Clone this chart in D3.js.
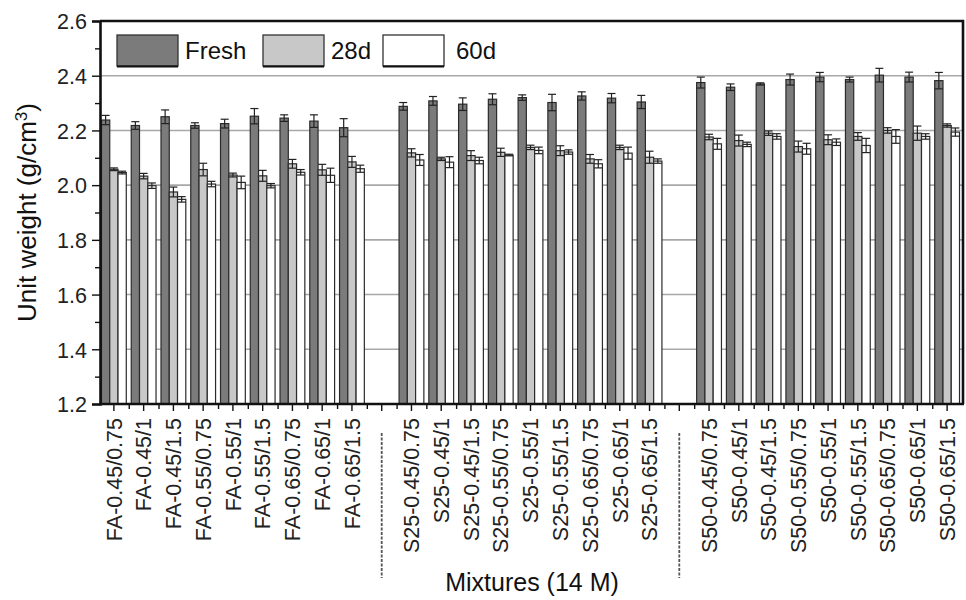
<!DOCTYPE html>
<html>
<head>
<meta charset="utf-8">
<script src="https://cdn.jsdelivr.net/npm/d3@7"></script>
<style>
    body { margin: 0; background: #fff; }
    svg text { font-family: 'Liberation Sans', Arial, sans-serif; fill: #111; }
</style>
</head>
<body>
<div class="main_content"></div>
<script>
// Mixture names, in plotting order
const categories = [
    'FA-0.45/0.75', 'FA-0.45/1', 'FA-0.45/1.5', 'FA-0.55/0.75', 'FA-0.55/1', 'FA-0.55/1.5', 'FA-0.65/0.75', 'FA-0.65/1', 'FA-0.65/1.5',
    'S25-0.45/0.75', 'S25-0.45/1', 'S25-0.45/1.5', 'S25-0.55/0.75', 'S25-0.55/1', 'S25-0.55/1.5', 'S25-0.65/0.75', 'S25-0.65/1', 'S25-0.65/1.5',
    'S50-0.45/0.75', 'S50-0.45/1', 'S50-0.45/1.5', 'S50-0.55/0.75', 'S50-0.55/1', 'S50-0.55/1.5', 'S50-0.65/0.75', 'S50-0.65/1', 'S50-0.65/1.5'
];
const seriesNames = ['Fresh', '28d', '60d'];

// Unit weight (g/cm3)
const fresh = [2.238, 2.218, 2.250, 2.218, 2.225, 2.252, 2.245, 2.234, 2.210,
               2.288, 2.308, 2.296, 2.314, 2.320, 2.302, 2.326, 2.318, 2.304,
               2.375, 2.358, 2.370, 2.386, 2.395, 2.386, 2.402, 2.395, 2.382];
const age28 = [2.058, 2.033, 1.975, 2.057, 2.037, 2.034, 2.078, 2.056, 2.085,
               2.118, 2.096, 2.108, 2.120, 2.138, 2.126, 2.096, 2.138, 2.102,
               2.176, 2.163, 2.190, 2.141, 2.166, 2.178, 2.200, 2.190, 2.218];
const age60 = [2.046, 1.998, 1.948, 2.004, 2.010, 1.998, 2.047, 2.036, 2.060,
               2.092, 2.084, 2.090, 2.110, 2.127, 2.121, 2.078, 2.117, 2.088,
               2.151, 2.149, 2.178, 2.133, 2.157, 2.145, 2.178, 2.178, 2.194];

// Standard deviations
const errFresh = [0.017, 0.014, 0.025, 0.010, 0.016, 0.028, 0.012, 0.023, 0.033,
                  0.014, 0.016, 0.023, 0.020, 0.010, 0.030, 0.015, 0.017, 0.024,
                  0.020, 0.012, 0.004, 0.020, 0.017, 0.009, 0.025, 0.018, 0.030];
const err28 = [0.005, 0.010, 0.018, 0.023, 0.007, 0.020, 0.016, 0.020, 0.020,
               0.015, 0.006, 0.018, 0.015, 0.008, 0.018, 0.016, 0.008, 0.022,
               0.010, 0.020, 0.008, 0.020, 0.018, 0.014, 0.010, 0.026, 0.006];
const err60 = [0.005, 0.010, 0.010, 0.010, 0.023, 0.008, 0.010, 0.026, 0.013,
               0.020, 0.020, 0.012, 0.003, 0.012, 0.008, 0.015, 0.022, 0.008,
               0.020, 0.008, 0.010, 0.020, 0.012, 0.026, 0.025, 0.010, 0.015];

const yTicks = [1.2, 1.4, 1.6, 1.8, 2.0, 2.2, 2.4, 2.6];
const gridValues = [1.4, 1.6, 1.8, 2.0, 2.2, 2.4];

class UnitWeightChart {
    constructor() {
        this.width = 966;
        this.height = 600;
        this.plot = {left: 100, right: 963, top: 21, bottom: 404};
        this.colors = {Fresh: '#7b7b7b', '28d': '#c8c8c8', '60d': '#ffffff'};
    }

    render() {
        let svg = d3.select('.main_content').append('svg')
            .attr('width', this.width)
            .attr('height', this.height);
        this.svg = svg;
        let p = this.plot;

        // Slots: three groups of nine, with an empty slot between groups
        let slots = categories.slice(0, 9).concat(['gap1'], categories.slice(9, 18), ['gap2'], categories.slice(18));

        let xScale = d3.scaleBand()
            .domain(slots)
            .range([p.left - 1, p.right - 1])
            .padding(0);

        let xSub = d3.scaleBand()
            .domain(seriesNames)
            .range([0, xScale.bandwidth()])
            .paddingInner(0)
            .paddingOuter(0.3);

        let yScale = d3.scaleLinear()
            .domain([1.2, 2.6])
            .range([p.bottom, p.top]);

        // Grid lines
        svg.append('g').selectAll('line')
            .data(gridValues)
            .enter().append('line')
            .attr('x1', p.left).attr('x2', p.right)
            .attr('y1', d => yScale(d)).attr('y2', d => yScale(d))
            .style('stroke', '#a8a8a8')
            .style('stroke-width', 1.6);

        // Long format rows for bars
        let rows = [];
        categories.forEach((c, i) => {
            rows.push({cat: c, s: 'Fresh', v: fresh[i], e: errFresh[i]});
            rows.push({cat: c, s: '28d', v: age28[i], e: err28[i]});
            rows.push({cat: c, s: '60d', v: age60[i], e: err60[i]});
        });

        svg.append('g').selectAll('rect')
            .data(rows)
            .enter().append('rect')
            .attr('x', d => xScale(d.cat) + xSub(d.s))
            .attr('y', d => yScale(d.v))
            .attr('width', xSub.bandwidth())
            .attr('height', d => yScale(1.2) - yScale(d.v))
            .style('fill', d => this.colors[d.s])
            .style('stroke', '#2b2b2b')
            .style('stroke-width', 1.2);

        // Error bars
        let errG = svg.append('g')
            .style('stroke', '#222')
            .style('stroke-width', 1.2);
        let cx = d => xScale(d.cat) + xSub(d.s) + xSub.bandwidth() / 2;
        errG.selectAll('.stem').data(rows).enter().append('line')
            .attr('x1', cx).attr('x2', cx)
            .attr('y1', d => yScale(d.v - d.e)).attr('y2', d => yScale(d.v + d.e));
        [1, -1].forEach(sign => {
            errG.selectAll('.cap' + sign).data(rows).enter().append('line')
                .attr('x1', d => cx(d) - 4).attr('x2', d => cx(d) + 4)
                .attr('y1', d => yScale(d.v + sign * d.e))
                .attr('y2', d => yScale(d.v + sign * d.e));
        });

        // Frame: top and right edges
        svg.append('path')
            .attr('d', 'M' + p.left + ',' + p.top + 'H' + p.right + 'V' + p.bottom)
            .style('fill', 'none')
            .style('stroke', '#111')
            .style('stroke-width', 2.6);

        // y axis with minor ticks
        let yMinor = d3.axisLeft(yScale)
            .tickValues(d3.range(1.3, 2.6, 0.2))
            .tickSize(5)
            .tickFormat('');
        svg.append('g')
            .attr('transform', 'translate(' + p.left + ',0)')
            .call(yMinor)
            .call(g => g.select('.domain').remove())
            .selectAll('line').style('stroke', '#111').style('stroke-width', 1.4);

        let yAxis = d3.axisLeft(yScale)
            .tickValues(yTicks)
            .tickSize(8)
            .tickPadding(5)
            .tickFormat(d3.format('.1f'));
        let yAxisG = svg.append('g')
            .attr('transform', 'translate(' + p.left + ',0)')
            .call(yAxis);
        yAxisG.select('.domain').style('stroke', '#111').style('stroke-width', 2.6);
        yAxisG.selectAll('line').style('stroke', '#111').style('stroke-width', 1.4);
        yAxisG.selectAll('text')
            .style('font-size', '21.5px')
            .style('fill', '#222')
            .attr('dy', '0.36em');

        // x axis: minor ticks on slot edges, labels on slot centres
        let xEdge = d3.scaleLinear().domain([0, slots.length]).range(xScale.range());
        let xMinor = d3.axisBottom(xEdge)
            .tickValues(d3.range(1, slots.length))
            .tickSize(5)
            .tickFormat('');
        svg.append('g')
            .attr('transform', 'translate(0,' + p.bottom + ')')
            .call(xMinor)
            .call(g => g.select('.domain').remove())
            .selectAll('line').style('stroke', '#111').style('stroke-width', 1.4);

        let xAxis = d3.axisBottom(xScale)
            .tickSize(7)
            .tickSizeOuter(0)
            .tickFormat(d => d.startsWith('gap') ? '' : d);
        let xAxisG = svg.append('g')
            .attr('transform', 'translate(0,' + p.bottom + ')')
            .call(xAxis);
        xAxisG.select('.domain')
            .attr('d', 'M' + (p.left - 1) + ',0H' + (p.right + 1))
            .style('stroke', '#111').style('stroke-width', 2.6);
        xAxisG.selectAll('line').style('stroke', '#111').style('stroke-width', 1.4);
        xAxisG.selectAll('text')
            .style('font-size', '21.5px')
            .style('fill', '#222')
            .attr('text-anchor', 'end')
            .attr('x', -14)
            .attr('y', 0)
            .attr('dy', '0.36em')
            .attr('transform', 'rotate(-90)');

        // Dashed separators between groups
        svg.append('g').selectAll('line')
            .data(['gap1', 'gap2'])
            .enter().append('line')
            .attr('x1', d => xScale(d) + xScale.bandwidth() / 2)
            .attr('x2', d => xScale(d) + xScale.bandwidth() / 2)
            .attr('y1', 433).attr('y2', 578)
            .style('stroke', '#555')
            .style('stroke-width', 1.8)
            .style('stroke-dasharray', '3,1.5');

        // Axis titles
        svg.append('text')
            .attr('transform', 'translate(36,' + ((p.top + p.bottom) / 2) + ') rotate(-90)')
            .attr('text-anchor', 'middle')
            .style('font-size', '26px')
            .html('Unit weight (g/cm<tspan dy="-9" font-size="17px">3</tspan><tspan dy="9">)</tspan>');

        svg.append('text')
            .attr('x', 532)
            .attr('y', 591)
            .attr('text-anchor', 'middle')
            .style('font-size', '25px')
            .text('Mixtures (14 M)');

        this.legend();
    }

    legend() {
        let items = [
            {name: 'Fresh', x: 117, tx: 185},
            {name: '28d', x: 263, tx: 331},
            {name: '60d', x: 383, tx: 456}
        ];
        let g = this.svg.append('g').classed('legend', true);
        let entries = g.selectAll('g').data(items).enter().append('g');
        entries.append('rect')
            .attr('x', d => d.x).attr('y', 35)
            .attr('width', 61).attr('height', 31)
            .style('fill', d => this.colors[d.name])
            .style('stroke', '#333')
            .style('stroke-width', 1.3);
        entries.append('line')
            .attr('x1', d => d.x).attr('x2', d => d.x + 61)
            .attr('y1', 66.5).attr('y2', 66.5)
            .style('stroke', '#111')
            .style('stroke-width', 2);
        entries.append('text')
            .attr('x', d => d.tx).attr('y', 59)
            .style('font-size', '24px')
            .text(d => d.name);
    }
}

let chart = new UnitWeightChart();
chart.render();
</script>
</body>
</html>
